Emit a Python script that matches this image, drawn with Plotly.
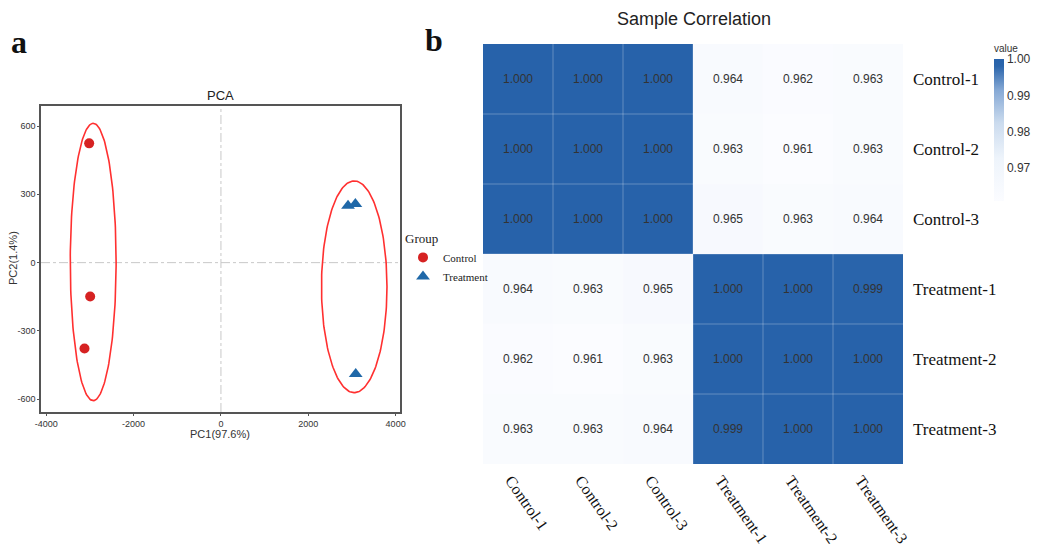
import numpy as np
import plotly.graph_objects as go

# ---------------- data ----------------
groups = ["Control", "Treatment"]
pc1_control = [-3017, -2994, -3124]
pc2_control = [524, -149, -377]
pc1_treatment = [2910, 3078, 3086]
pc2_treatment = [250, 258, -489]

# confidence ellipses (centre and semi-axes) per group
ellipse_cx = [-2925, 3052]
ellipse_cy = [3, -106]
ellipse_rx = [525, 750]
ellipse_ry = [609, 465]

pca_xticks = [-4000, -2000, 0, 2000, 4000]
pca_yticks = [-600, -300, 0, 300, 600]

samples = ["Control-1", "Control-2", "Control-3", "Treatment-1", "Treatment-2", "Treatment-3"]
corr = [
    [1.000, 1.000, 1.000, 0.964, 0.962, 0.963],
    [1.000, 1.000, 1.000, 0.963, 0.961, 0.963],
    [1.000, 1.000, 1.000, 0.965, 0.963, 0.964],
    [0.964, 0.963, 0.965, 1.000, 1.000, 0.999],
    [0.962, 0.961, 0.963, 1.000, 1.000, 1.000],
    [0.963, 0.963, 0.964, 0.999, 1.000, 1.000],
]
cbar_ticks = [0.97, 0.98, 0.99, 1.00]

# ---------------- layout helpers ----------------
W, H = 1040, 551
def px(x):
    return x / W
def py(y):
    return 1 - y / H

SANS = "Liberation Sans, Arial, sans-serif"
SERIF = "Liberation Serif, Times New Roman, serif"

fig = go.Figure()

# ellipses
t = np.linspace(0, 2 * np.pi, 200)
for cx, cy, rx, ry in zip(ellipse_cx, ellipse_cy, ellipse_rx, ellipse_ry):
    fig.add_trace(go.Scatter(
        x=cx + rx * np.cos(t), y=cy + ry * np.sin(t), mode="lines",
        line=dict(color="#ff3030", width=1.6), showlegend=False, hoverinfo="skip",
        xaxis="x", yaxis="y"))

fig.add_trace(go.Scatter(
    x=pc1_control, y=pc2_control, mode="markers", name=groups[0],
    marker=dict(symbol="circle", size=10, color="#d62222"),
    xaxis="x", yaxis="y"))
fig.add_trace(go.Scatter(
    x=pc1_treatment, y=pc2_treatment, mode="markers", name=groups[1],
    marker=dict(symbol="triangle-up", size=12, color="#1f68a8"),
    xaxis="x", yaxis="y"))

# heatmap
zmin = min(min(r) for r in corr)
zmax = max(max(r) for r in corr)
fig.add_trace(go.Heatmap(
    z=corr, x=samples, y=samples, xaxis="x2", yaxis="y2",
    zmin=zmin, zmax=zmax,
    colorscale=[[0, "#fbfcff"], [0.3, "#eef4fb"], [0.55, "#cbdbee"],
                [0.78, "#86a9d5"], [0.95, "#2b65ab"], [1, "#2762aa"]],
    texttemplate="%{z:.3f}", textfont=dict(family=SANS, size=12, color="#333333"),
    showscale=True,
    colorbar=dict(
        x=px(994), xanchor="left", y=py(130), yanchor="middle", xpad=0, ypad=0,
        len=142, lenmode="pixels", thickness=10, outlinewidth=0,
        tickvals=cbar_ticks, ticktext=[f"{v:.2f}" for v in cbar_ticks],
        ticks="", tickfont=dict(family=SANS, size=12, color="#333333"),
    ),
    showlegend=False,
))

shapes = []
# zero reference lines in PCA
shapes.append(dict(type="line", xref="x", yref="y domain", x0=0, x1=0, y0=0, y1=1,
                   line=dict(color="#c8c8c8", width=1, dash="dashdot"), layer="below"))
shapes.append(dict(type="line", xref="x domain", yref="y", x0=0, x1=1, y0=0, y1=0,
                   line=dict(color="#c8c8c8", width=1, dash="dashdot"), layer="below"))
# heatmap cell separators
n = len(samples)
for i in range(1, n):
    shapes.append(dict(type="line", xref="x2", yref="y2 domain", x0=i - 0.5, x1=i - 0.5, y0=0, y1=1,
                       line=dict(color="rgba(255,255,255,0.28)", width=1), layer="above"))
    shapes.append(dict(type="line", xref="x2 domain", yref="y2", x0=0, x1=1, y0=i - 0.5, y1=i - 0.5,
                       line=dict(color="rgba(255,255,255,0.28)", width=1), layer="above"))

annotations = [
    dict(text="PCA", xref="paper", yref="paper", x=px(220), y=py(95), showarrow=False,
         font=dict(family=SANS, size=13, color="#222222"), xanchor="center", yanchor="middle"),
    dict(text="PC1(97.6%)", xref="paper", yref="paper", x=px(220), y=py(434), showarrow=False,
         font=dict(family=SANS, size=11, color="#333333"), xanchor="center", yanchor="middle"),
    dict(text="PC2(1.4%)", xref="paper", yref="paper", x=px(13), y=py(258), showarrow=False,
         textangle=-90, font=dict(family=SANS, size=11, color="#333333"),
         xanchor="center", yanchor="middle"),
    dict(text="Sample Correlation", xref="paper", yref="paper", x=px(694), y=py(19), showarrow=False,
         font=dict(family=SANS, size=18, color="#222222"), xanchor="center", yanchor="middle"),
    dict(text="value", xref="paper", yref="paper", x=px(992), y=py(48), showarrow=False,
         font=dict(family=SANS, size=10, color="#333333"), xanchor="left", yanchor="middle"),
    dict(text="<b>a</b>", xref="paper", yref="paper", x=px(9), y=py(42), showarrow=False,
         font=dict(family=SERIF, size=32, color="#111111"), xanchor="left", yanchor="middle"),
    dict(text="<b>b</b>", xref="paper", yref="paper", x=px(423), y=py(40), showarrow=False,
         font=dict(family=SERIF, size=32, color="#111111"), xanchor="left", yanchor="middle"),
]

fig.update_layout(
    width=W, height=H, margin=dict(l=0, r=0, t=0, b=0, autoexpand=False),
    paper_bgcolor="white", plot_bgcolor="white",
    font=dict(family=SANS, color="#333333"),
    shapes=shapes, annotations=annotations,
    xaxis=dict(domain=[px(41), px(400)], range=[-4120, 4100], tickvals=pca_xticks,
               ticktext=[str(v) for v in pca_xticks], automargin=False,
               showgrid=False, zeroline=False, showline=True, mirror=True, linecolor="#555555",
               linewidth=1.5, ticks="outside", ticklen=2, tickcolor="#555555",
               tickfont=dict(family=SANS, size=9, color="#333333")),
    yaxis=dict(domain=[py(412), py(106)], range=[-656, 688], tickvals=pca_yticks,
               ticktext=[str(v) for v in pca_yticks], automargin=False,
               showgrid=False, zeroline=False, showline=True, mirror=True, linecolor="#555555",
               linewidth=1.5, ticks="outside", ticklen=2, tickcolor="#555555",
               tickfont=dict(family=SANS, size=9, color="#333333")),
    xaxis2=dict(domain=[px(483), px(903)], anchor="y2", type="category", showgrid=False,
                automargin=False, zeroline=False, showline=False, ticks="", tickangle=55,
                ticklabelshift=-7, ticklabelstandoff=3,
                tickfont=dict(family=SERIF, size=16, color="#111111")),
    yaxis2=dict(domain=[py(464), py(44)], anchor="x2", type="category", autorange="reversed",
                automargin=False, side="right", showgrid=False, zeroline=False, showline=False, ticks="",
                ticklabelstandoff=9,
                tickfont=dict(family=SERIF, size=17, color="#111111")),
    legend=dict(x=px(403), y=py(226), xanchor="left", yanchor="top",
                title=dict(text="Group", font=dict(family=SERIF, size=13, color="#222222")),
                font=dict(family=SERIF, size=11, color="#222222"),
                itemwidth=30, tracegroupgap=0, bgcolor="rgba(0,0,0,0)"),
)

fig.write_html("out.html", config={"displayModeBar": False},
               post_script="document.body.style.margin='0px';document.body.style.padding='0px';")
